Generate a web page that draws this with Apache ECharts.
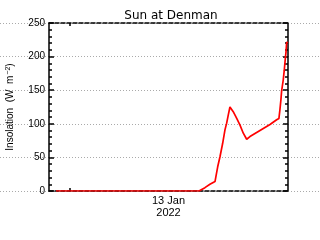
<!DOCTYPE html>
<html><head><meta charset="utf-8">
<script src="https://cdn.jsdelivr.net/npm/echarts@6/dist/echarts.min.js"></script>
<style>html,body{margin:0;padding:0;background:#fff}#c{width:320px;height:240px}</style>
</head><body><div id="c"></div>
<script>
// time in hours (axis spans 0..24), insolation in W m^-2
var hours = [0.7, 15.06, 15.66, 16.16, 16.67, 16.77, 16.94, 17.17, 17.44, 17.67, 17.84, 18.0, 18.17, 18.5, 18.85, 19.18, 19.51, 19.85, 20.18, 20.85, 21.52, 22.19, 22.86, 23.09, 23.19, 23.29, 23.36, 23.52, 23.62, 23.73, 23.8, 23.86, 23.95];
var insolation = [0, 0, 5, 10, 14, 22, 36, 51, 71, 91, 101, 113, 125, 118, 108, 98, 86, 77, 81, 87, 93, 99, 106, 108, 121, 136, 149, 165, 179, 197, 207, 220, 222];
var yTicks = [0, 50, 100, 150, 200, 250];
var title = 'Sun at Denman';
var xLabel = '13 Jan\n2022';
var xTickHours = [2.1];

var data = hours.map(function (h, i) { return [h, insolation[i]]; });
var font = 'Liberation Sans';
var chart = echarts.init(document.getElementById('c'), null, {renderer: 'canvas'});
chart.setOption({
  animation: false,
  backgroundColor: '#fff',
  title: {text: title, left: 166, top: 5, textAlign: 'center',
    textStyle: {fontFamily: 'DejaVu Sans', fontSize: 12, fontWeight: 'normal', color: '#000'}},
  grid: [
    {left: 0, right: 0, top: 23, bottom: 49, containLabel: false, outerBoundsMode: 'none'},
    {left: 49, right: 32, top: 23, bottom: 49, containLabel: false, outerBoundsMode: 'none'}
  ],
  xAxis: [
    {gridIndex: 0, type: 'value', min: 0, max: 1, show: false},
    {gridIndex: 1, type: 'value', min: 0, max: 24, position: 'bottom',
      axisLine: {show: true, onZero: false, lineStyle: {color: '#000', width: 1.5, type: [4, 2]}},
      axisTick: {show: true, inside: true, length: 3, customValues: xTickHours, lineStyle: {color: '#000', width: 1.5}},
      axisLabel: {show: false}, splitLine: {show: false},
      name: xLabel, nameLocation: 'middle', nameGap: 4,
      nameTextStyle: {fontFamily: font, fontSize: 11, color: '#000', lineHeight: 12, verticalAlign: 'top'}},
    {gridIndex: 1, type: 'value', min: 0, max: 24, position: 'top',
      axisLine: {show: true, onZero: false, lineStyle: {color: '#000', width: 1.5, type: [4, 2]}},
      axisTick: {show: true, inside: true, length: 3, customValues: xTickHours, lineStyle: {color: '#000', width: 1.5}},
      axisLabel: {show: false}, splitLine: {show: false}}
  ],
  yAxis: [
    {gridIndex: 0, type: 'value', min: 0, max: 250, interval: 50,
      axisLine: {show: false, onZero: false}, axisTick: {show: false}, axisLabel: {show: false},
      splitLine: {show: true, lineStyle: {color: '#aaa', width: 1, type: [1, 2]}}},
    {gridIndex: 1, type: 'value', min: 0, max: 250, interval: 50, position: 'left',
      axisLine: {show: true, onZero: false, lineStyle: {color: '#000', width: 1.5}},
      axisTick: {show: true, inside: true, length: 5, lineStyle: {color: '#000', width: 1.5}},
      minorTick: {show: true, splitNumber: 5, length: 3, lineStyle: {color: '#000', width: 1.5}},
      axisLabel: {show: true, margin: 4, fontFamily: font, fontSize: 10, color: '#000',
        customValues: yTicks},
      splitLine: {show: false},
      name: '{n|Insolation  (W  m}{sup|−2}{n|)}', nameLocation: 'middle', nameGap: 23, nameRotate: 90,
      nameTextStyle: {fontFamily: font, fontSize: 10, color: '#000',
        rich: {
          n: {fontFamily: font, fontSize: 10, color: '#000', verticalAlign: 'bottom', lineHeight: 11},
          sup: {fontFamily: font, fontSize: 7, color: '#000', verticalAlign: 'top', lineHeight: 8, padding: [0, 0, 6, 1]}
        }}},
    {gridIndex: 1, type: 'value', min: 0, max: 250, interval: 50, position: 'right',
      axisLine: {show: true, onZero: false, lineStyle: {color: '#000', width: 1.5}},
      axisTick: {show: true, inside: true, length: 5, lineStyle: {color: '#000', width: 1.5}},
      minorTick: {show: true, splitNumber: 5, length: 3, lineStyle: {color: '#000', width: 1.5}},
      axisLabel: {show: false}, splitLine: {show: false}}
  ],
  series: [{
    type: 'line', xAxisIndex: 1, yAxisIndex: 1, data: data,
    showSymbol: false, symbol: 'none',
    lineStyle: {color: '#ff0000', width: 1.7}, z: 1
  }]
});
</script></body></html>
